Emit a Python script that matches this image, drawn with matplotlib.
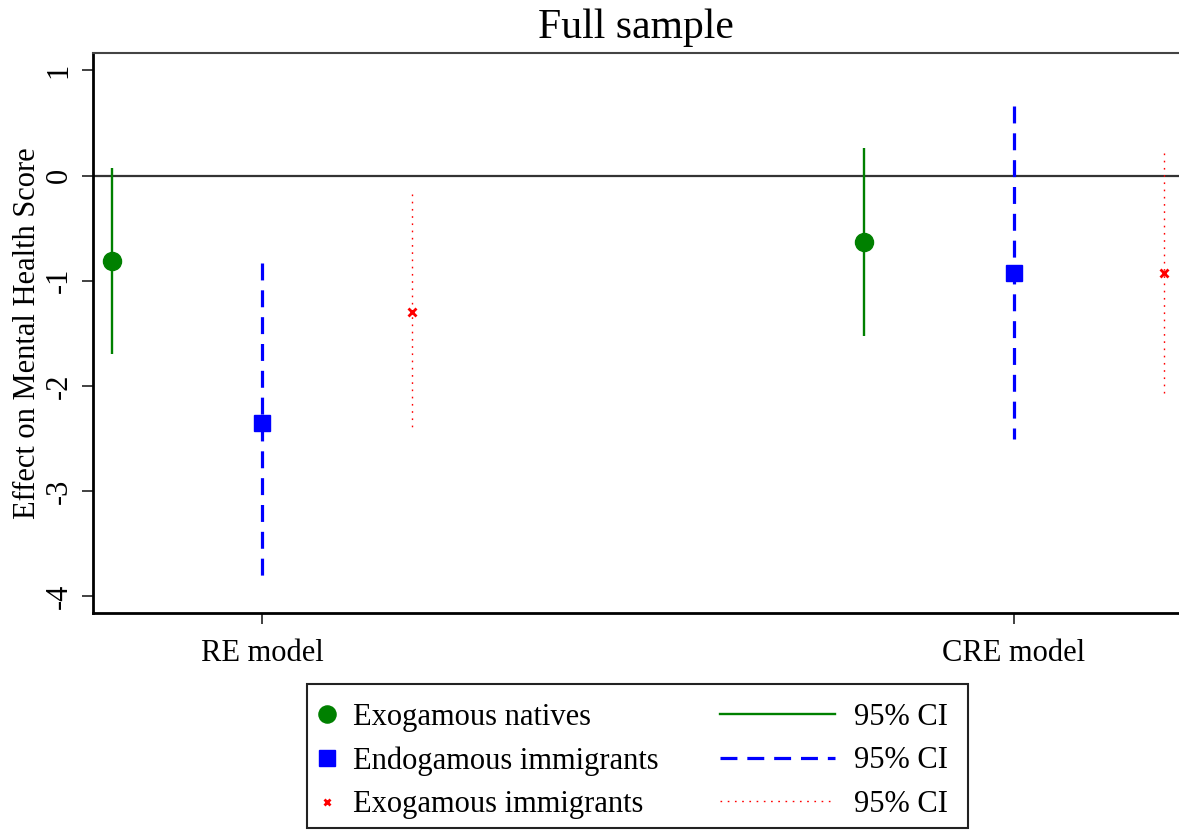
import matplotlib
matplotlib.use("Agg")
import matplotlib.pyplot as plt
from matplotlib.lines import Line2D
from matplotlib.patches import Rectangle
import numpy as np

plt.rcParams['font.family'] = ['Liberation Serif', 'DejaVu Serif']

models = ["RE model", "CRE model"]
series = ["Exogamous natives", "Endogamous immigrants", "Exogamous immigrants"]
est_natives = [-0.81, -0.63]
lo_natives = [-1.70, -1.53]
hi_natives = [0.076, 0.26]
est_endo = [-2.35, -0.93]
lo_endo = [-3.85, -2.51]
hi_endo = [-0.83, 0.66]
est_exo = [-1.30, -0.93]
lo_exo = [-2.40, -2.07]
hi_exo = [-0.177, 0.21]
yticks = [1, 0, -1, -2, -3, -4]

fig = plt.figure(figsize=(11.79, 8.30), dpi=100)
ax = fig.add_axes([93/1179, 1-613/830, 1-93/1179, (613-53)/830])

xc = np.arange(1, len(models)+1)
offsets = [-0.2, 0.0, 0.2]
styles = [
    dict(est=est_natives, lo=lo_natives, hi=hi_natives, color='#008000', marker='o', ms=13, ls='-', lw=1.7),
    dict(est=est_endo, lo=lo_endo, hi=hi_endo, color='#0000ff', marker='s', ms=12, ls=(0, (5.3, 3.1)), lw=2.3),
    dict(est=est_exo, lo=lo_exo, hi=hi_exo, color='#ff0000', marker='x', ms=5.5, ls=(0, (1.2, 4.0)), lw=1.0),
]

ax.axhline(0, color='#333333', lw=1.6, zorder=1)

mhandles, lhandles = [], []
for off, st, name in zip(offsets, styles, series):
    xs = xc + off
    # draw from the upper end downwards so the dash pattern starts at the top
    ax.vlines(xs, st['hi'], st['lo'], colors=st['color'], linestyles=st['ls'], lw=st['lw'], zorder=2)
    ax.plot(xs, st['est'], linestyle='none', marker=st['marker'], ms=st['ms'],
            color=st['color'], mew=2 if st['marker'] == 'x' else 1, zorder=3)
    mhandles.append(Line2D([], [], linestyle='none', marker=st['marker'],
                           ms=st['ms']*0.95 if st['marker'] != 'x' else 5,
                           color=st['color'], mew=2 if st['marker'] == 'x' else 1))
    lhandles.append(Line2D([], [], color=st['color'], ls=st['ls'], lw=st['lw']))

ax.set_xlim(0.7753, 2.2194)
ax.set_ylim(-4.16, 1.165)
ax.set_xticks(xc)
ax.set_xticklabels(models, fontsize=22)
ax.set_yticks(yticks)
ax.set_yticklabels([str(t) for t in yticks], fontsize=22, rotation=90, va='center')
ax.tick_params(axis='both', direction='out', length=8, width=1.3, color='#333333', pad=6)
ax.tick_params(axis='x', pad=11)
ax.spines['right'].set_visible(False)
ax.spines['left'].set_linewidth(2)
ax.spines['bottom'].set_linewidth(2)
ax.spines['top'].set_linewidth(1.5)
ax.spines['top'].set_color('#444444')
ax.set_ylabel("Effect on Mental Health Score", fontsize=22, labelpad=2)
ax.set_title("Full sample", fontsize=30, pad=11)

# legend: frame + two columns
fig.patches.append(Rectangle((307/1179, 1-828/830), (968-307)/1179, (828-684)/830,
                             transform=fig.transFigure, fill=False, ec='#222222', lw=1.5))
leg1 = fig.legend(mhandles, series, loc='upper left', bbox_to_anchor=(312/1179, 1-703/830),
                  frameon=False, fontsize=22, handlelength=1.0, handletextpad=0.35,
                  labelspacing=0.47, borderaxespad=0, borderpad=0)
leg2 = fig.legend(lhandles, ["95% CI"]*3, loc='upper left', bbox_to_anchor=(720/1179, 1-703/830),
                  frameon=False, fontsize=22, handlelength=3.75, handletextpad=0.65,
                  labelspacing=0.47, borderaxespad=0, borderpad=0)

fig.savefig("out.png", dpi=100)
